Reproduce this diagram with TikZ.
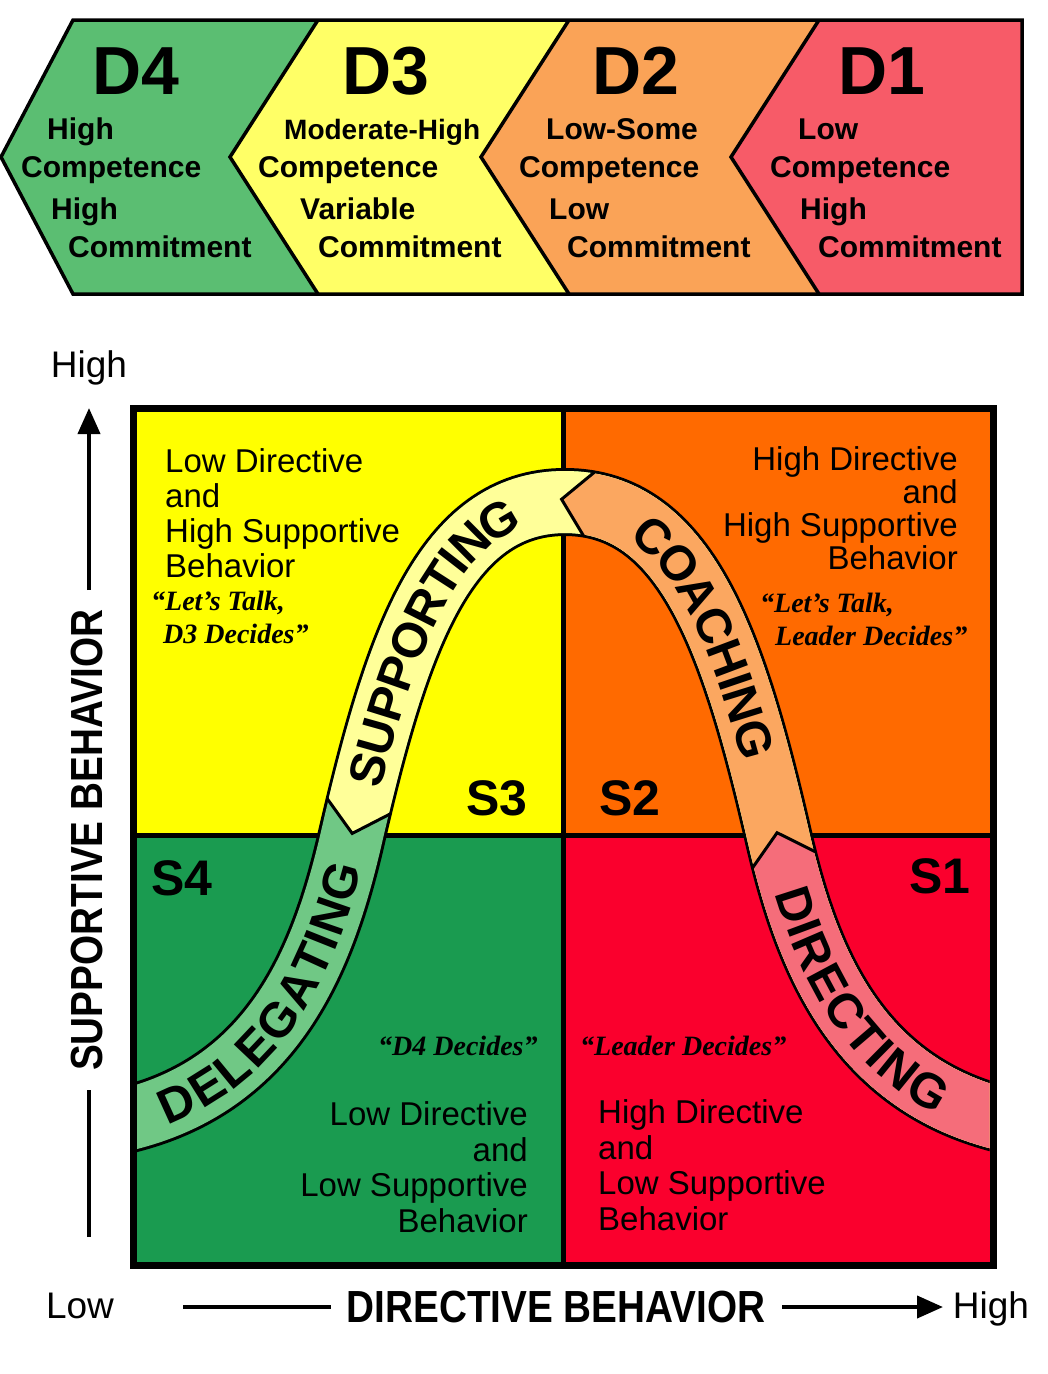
\documentclass[tikz,border=0pt]{standalone}
\usepackage{fontspec}
\setmainfont{Liberation Sans}
\newfontfamily\quotefont{Liberation Serif}
\newfontfamily\condfont{Liberation Sans}[FakeStretch=0.86]
\usetikzlibrary{calc,arrows.meta,decorations.text}
\definecolor{bDfour}{HTML}{5BBE72}
\definecolor{bDthree}{HTML}{FFFF66}
\definecolor{bDtwo}{HTML}{FAA357}
\definecolor{bDone}{HTML}{F75B68}
\definecolor{qYel}{HTML}{FFFF00}
\definecolor{qOra}{HTML}{FF6A00}
\definecolor{qGre}{HTML}{1A9B50}
\definecolor{qRed}{HTML}{FA002D}
\definecolor{aGre}{HTML}{70C885}
\definecolor{aYel}{HTML}{FFFF99}
\definecolor{aOra}{HTML}{FBA760}
\definecolor{aRed}{HTML}{F56D7A}
\newcommand\bandfont{\fontsize{49}{49}\selectfont\bfseries}
\def\bandpath{(112.7,1123.4) -- (133,1118) .. controls (277.9,1079.2) and (325,952.9) .. (352,835) .. controls (397,640.2) and (445,502) .. (565,502) .. controls (685,502) and (733,640.2) .. (778,835) .. controls (805,952.9) and (852.1,1079.2) .. (997,1118) -- (1017.3,1123.4)}
\begin{document}
\begin{tikzpicture}[x=1pt,y=-1pt,
  bannertxt/.style={font=\fontsize{30}{30}\selectfont\bfseries, anchor=base west, inner sep=0pt},
  dlab/.style={font=\fontsize{68}{68}\selectfont\bfseries, anchor=base, inner sep=0pt},
  quadtxt/.style={inner sep=0pt},
  quotetxt/.style={font=\quotefont\bfseries\itshape\fontsize{28}{28}\selectfont, anchor=base west, inner sep=0pt},
  slab/.style={font=\fontsize{50}{50}\selectfont\bfseries, anchor=base, inner sep=0pt},
  cutmark/.style={sloped, allow upside down, rectangle, inner sep=0pt, outer sep=0pt, minimum width=56pt, minimum height=65pt},
  chev/.style={line width=3pt, line join=miter},
  axisline/.style={line width=4pt},
  axtxt/.style={font=\fontsize{37}{37}\selectfont, anchor=base, inner sep=0pt},
  axtitle/.style={font=\condfont\bfseries\fontsize{45}{45}\selectfont, inner sep=0pt}
]
\useasboundingbox (0,0) rectangle (1048,1374);
\fill[white] (0,0) rectangle (1048,1374);

% ---------- banner ----------
\fill[bDfour] (1,157) -- (73,20) -- (318,20) -- (230,157) -- (318,294) -- (73,294) -- cycle;
\fill[bDthree] (318,20) -- (569,20) -- (481,157) -- (569,294) -- (318,294) -- (230,157) -- cycle;
\fill[bDtwo] (569,20) -- (819,20) -- (731,157) -- (819,294) -- (569,294) -- (481,157) -- cycle;
\fill[bDone] (819,20) -- (1022,20) -- (1022,294) -- (819,294) -- (731,157) -- cycle;
\draw[line width=3.5pt] (318,20) -- (230,157) -- (318,294);
\draw[line width=3.5pt] (569,20) -- (481,157) -- (569,294);
\draw[line width=3.5pt] (819,20) -- (731,157) -- (819,294);
\draw[line width=3.5pt, line join=miter] (1,157) -- (73,20) -- (1022,20) -- (1022,294) -- (73,294) -- cycle;

\node[dlab] (d4) at (136,94) {D4};
\node[dlab] (d3) at (386,94) {D3};
\node[dlab] (d2) at (636,94) {D2};
\node[dlab] (d1) at (882,94) {D1};

\node[bannertxt] (d4a) at (47,139) {High};
\node[bannertxt] (d4b) at (21,177) {Competence};
\node[bannertxt] (d4c) at (51,219) {High};
\node[bannertxt] (d4d) at (68,257) {Commitment};
\node[bannertxt, font=\fontsize{28}{28}\selectfont\bfseries] (d3a) at (284,139) {Moderate-High};
\node[bannertxt] (d3b) at (258,177) {Competence};
\node[bannertxt] (d3c) at (300,219) {Variable};
\node[bannertxt] (d3d) at (318,257) {Commitment};
\node[bannertxt] (d2a) at (546,139) {Low-Some};
\node[bannertxt] (d2b) at (519,177) {Competence};
\node[bannertxt] (d2c) at (549,219) {Low};
\node[bannertxt] (d2d) at (567,257) {Commitment};
\node[bannertxt] (d1a) at (798,139) {Low};
\node[bannertxt] (d1b) at (770,177) {Competence};
\node[bannertxt] (d1c) at (800,219) {High};
\node[bannertxt] (d1d) at (818,257) {Commitment};

% ---------- quadrants ----------
\fill[qYel] (133,408) rectangle (563,835);
\fill[qOra] (563,408) rectangle (993,835);
\fill[qGre] (133,835) rectangle (563,1265);
\fill[qRed] (563,835) rectangle (993,1265);
\draw[line width=5pt] (563,408) -- (563,1265);
\draw[line width=5pt] (133,835) -- (993,835);

% cut positions on the curve
\path (352,835) .. controls (397,640.2) and (445,502) .. node[cutmark, pos=0.05] (cA) {} (565,502);
\path (565,502) .. controls (685,502) and (733,640.2) .. node[cutmark, pos=0.07] (cB) {} (778,835);
\path (778,835) .. controls (805,952.9) and (852.1,1079.2) .. node[cutmark, pos=0.07] (cC) {} (997,1118);

\begin{scope}
  \clip (136.5,411.5) rectangle (989.5,1261.5);
  \draw[line width=68pt, black] \bandpath;
  \draw[line width=62pt, aGre] \bandpath;
  \begin{scope}
    \clip ($(cA.west)!4!(cA.north)$) -- (cA.west) -- ($(cA.west)!4!(cA.south)$) -- (480,1300) -- (1100,1300) -- (1100,300) -- (250,300) -- cycle;
    \draw[line width=62pt, aYel] \bandpath;
  \end{scope}
  \begin{scope}
    \clip ($(cB.west)!4!(cB.north)$) -- (cB.west) -- ($(cB.west)!4!(cB.south)$) -- (690,1300) -- (1100,1300) -- (1100,300) -- (690,300) -- cycle;
    \draw[line width=62pt, aOra] \bandpath;
  \end{scope}
  \begin{scope}
    \clip ($(cC.west)!4!(cC.north)$) -- (cC.west) -- ($(cC.west)!4!(cC.south)$) -- (673,1300) -- (1100,1300) -- (1100,912) -- cycle;
    \draw[line width=62pt, aRed] \bandpath;
  \end{scope}
  \draw[chev] (cA.north) -- (cA.west) -- (cA.south);
  \draw[chev] (cB.north) -- (cB.west) -- (cB.south);
  \draw[chev] (cC.north) -- (cC.west) -- (cC.south);
  \path[decorate, decoration={text along path, text={|\bandfont|DELEGATING}, text align=center, raise=-17.5pt}]
    (133,1118) .. controls (277.9,1079.2) and (325,952.9) .. (352,835);
  \path[decorate, decoration={text along path, text={|\bandfont|SUPPORTING}, text align=center, raise=-17.5pt}]
    (352,835) .. controls (397,640.2) and (445,502) .. (565,502);
  \path[decorate, decoration={text along path, text={|\bandfont|COACHING}, text align=center, raise=-17.5pt}]
    (565,502) .. controls (685,502) and (733,640.2) .. (778,835);
  \path[decorate, decoration={text along path, text={|\bandfont|DIRECTING}, text align=center, raise=-17.5pt}]
    (778,835) .. controls (805,952.9) and (852.1,1079.2) .. (997,1118);
\end{scope}

% quadrant texts
\node[quadtxt, anchor=north west, align=left, font=\fontsize{33}{35}\selectfont] (tlq) at (165,448.4)
  {Low Directive\\and\\High Supportive\\Behavior};
\node[quadtxt, anchor=north east, align=right, font=\fontsize{33}{33}\selectfont] (trq) at (958,446.4)
  {High Directive\\and\\High Supportive\\Behavior};
\node[quadtxt, anchor=north east, align=right, font=\fontsize{33}{35.7}\selectfont] (blq) at (528,1101.4)
  {Low Directive\\and\\Low Supportive\\Behavior};
\node[quadtxt, anchor=north west, align=left, font=\fontsize{33}{35.7}\selectfont] (brq) at (598,1099.4)
  {High Directive\\and\\Low Supportive\\Behavior};

\node[quotetxt] (tlqa) at (151,610) {“Let’s Talk,};
\node[quotetxt] (tlqb) at (163,643) {D3 Decides”};
\node[quotetxt] (trqa) at (760,612) {“Let’s Talk,};
\node[quotetxt] (trqb) at (775,645) {Leader Decides”};
\node[quotetxt] (blqa) at (378,1055) {“D4 Decides”};
\node[quotetxt] (brqa) at (580,1055) {“Leader Decides”};

\node[slab] (s3) at (497,815) {S3};
\node[slab] (s2) at (630,815) {S2};
\node[slab] (s4) at (182,895) {S4};
\node[slab] (s1) at (940,893) {S1};

\draw[line width=7pt] (133,408) rectangle (993,1265);

% axes
\node[axtxt] (yhigh) at (89,377) {High};
\node[axtxt] (xlow) at (80,1318) {Low};
\node[axtxt] (xhigh) at (991,1318) {High};
\node[axtitle, rotate=90] (ytitle) at (87,840) {SUPPORTIVE BEHAVIOR};
\node[axtitle, anchor=base] (xtitle) at (556,1322) {DIRECTIVE BEHAVIOR};
\coordinate (ya) at (89,1237);
\coordinate (yb) at (89,1090);
\coordinate (yc) at (89,590);
\coordinate (yd) at (89,408);
\coordinate (xa) at (183,1307);
\coordinate (xb) at (331,1307);
\coordinate (xc) at (782,1307);
\coordinate (xd) at (943,1307);
\draw[axisline] (ya) -- (yb);
\draw[axisline, -{Triangle[length=26pt,width=22pt]}] (yc) -- (yd);
\draw[axisline] (xa) -- (xb);
\draw[axisline, -{Triangle[length=26pt,width=22pt]}] (xc) -- (xd);
\end{tikzpicture}
\end{document}
